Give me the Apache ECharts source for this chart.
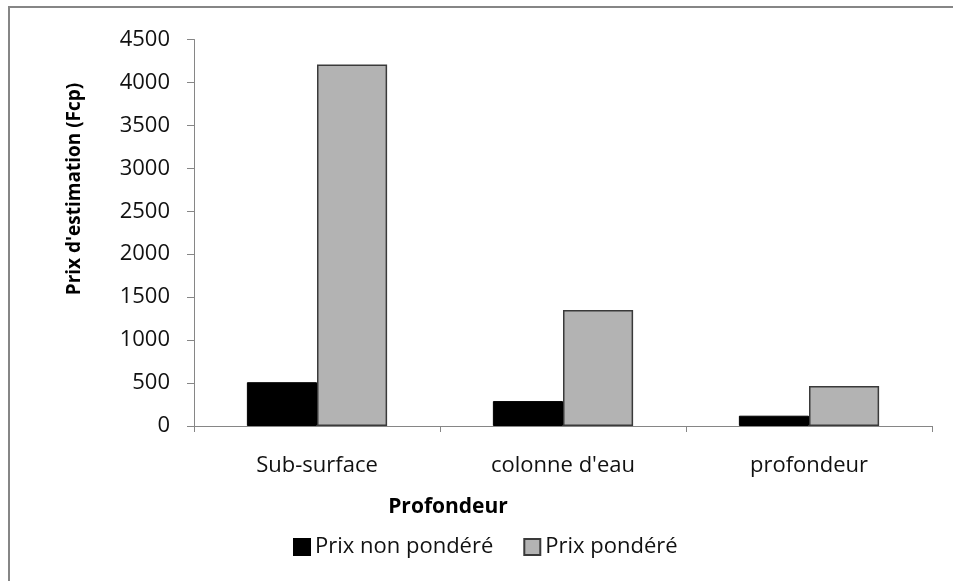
<!DOCTYPE html>
<html>
<head>
<meta charset="utf-8">
<script src="https://cdn.jsdelivr.net/npm/echarts@6/dist/echarts.min.js"></script>
<style>
  html, body { margin: 0; padding: 0; background: #fff; }
  #chart { width: 953px; height: 581px; }
</style>
</head>
<body>
<div id="chart"></div>
<script>
// Estimated price by sampling depth
const categories = ['Sub-surface', "colonne d'eau", 'profondeur'];
const prixNonPondere = [510, 290, 120];
const prixPondere = [4210, 1350, 465];
const seriesNames = ['Prix non pondéré', 'Prix pondéré'];
const yTitle = "Prix d'estimation (Fcp)";
const xTitle = 'Profondeur';

const FONT = '"Open Sans", sans-serif';
const AXIS_GREY = '#868686';

const chart = echarts.init(document.getElementById('chart'), null, { renderer: 'canvas' });

chart.setOption({
  backgroundColor: '#fff',
  animation: false,
  grid: { left: 194, right: 21, top: 39.5, bottom: 155, containLabel: false },
  legend: {
    data: seriesNames,
    left: 288,
    top: 531,
    itemWidth: 16,
    itemHeight: 16,
    itemGap: 30,
    icon: 'rect',
    textStyle: { fontFamily: FONT, fontSize: 22, color: '#111', padding: [0, 0, 0, 0] }
  },
  xAxis: {
    type: 'category',
    data: categories,
    axisLine: { lineStyle: { color: AXIS_GREY, width: 1 } },
    axisTick: { show: true, alignWithLabel: false, length: 6, lineStyle: { color: AXIS_GREY } },
    axisLabel: { fontFamily: FONT, fontSize: 22, color: '#111', margin: 29 }
  },
  yAxis: {
    type: 'value',
    min: 0,
    max: 4500,
    interval: 500,
    splitLine: { show: false },
    axisLine: { show: true, lineStyle: { color: AXIS_GREY, width: 1 } },
    axisTick: { show: true, inside: false, length: 7, lineStyle: { color: AXIS_GREY } },
    axisLabel: {
      fontFamily: FONT, fontSize: 22, color: '#111', margin: 24,
      formatter: (v) => String(v)
    }
  },
  series: [
    {
      name: seriesNames[0],
      type: 'bar',
      data: prixNonPondere,
      barGap: '0%',
      barCategoryGap: '43%',
      itemStyle: { color: '#000', borderColor: '#000', borderWidth: 1 }
    },
    {
      name: seriesNames[1],
      type: 'bar',
      data: prixPondere,
      barGap: '0%',
      barCategoryGap: '43%',
      itemStyle: { color: '#b3b3b3', borderColor: '#3a3a3a', borderWidth: 1.5 }
    }
  ],
  graphic: [
    {
      type: 'rect',
      shape: { x: 9, y: 7, width: 1000, height: 700 },
      style: { fill: 'none', stroke: '#868686', lineWidth: 2 },
      silent: true
    },
    {
      type: 'text',
      x: 75,
      y: 189,
      rotation: Math.PI / 2,
      style: {
        text: yTitle,
        fontFamily: FONT,
        fontSize: 19,
        fontWeight: 'bold',
        fill: '#000',
        align: 'center',
        verticalAlign: 'middle'
      }
    },
    {
      type: 'text',
      x: 448,
      y: 507,
      style: {
        text: xTitle,
        fontFamily: FONT,
        fontSize: 21,
        fontWeight: 'bold',
        fill: '#000',
        align: 'center',
        verticalAlign: 'middle'
      }
    }
  ]
});
</script>
</body>
</html>
